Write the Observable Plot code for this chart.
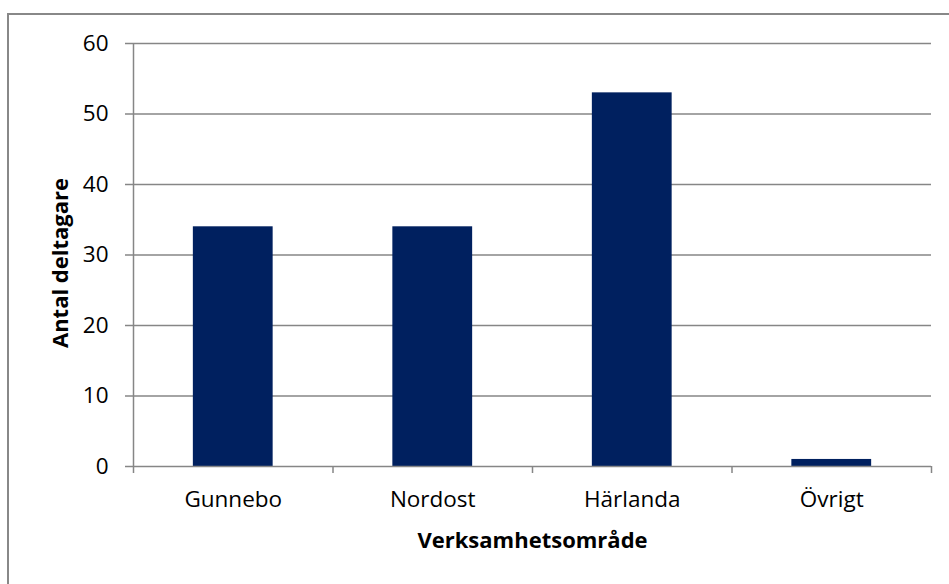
<!DOCTYPE html>
<html>
<head>
<meta charset="utf-8">
<script src="https://cdn.jsdelivr.net/npm/d3@7"></script>
<script src="https://cdn.jsdelivr.net/npm/@observablehq/plot@0.6"></script>
<style>
  html, body { margin: 0; padding: 0; background: #fff; }
  #wrap { position: relative; width: 949px; height: 584px; overflow: hidden; }
  #border { position: absolute; left: 7px; top: 13px; width: 960px; height: 600px; border: 2px solid #888; box-sizing: border-box; }
  #chart { position: absolute; left: 0; top: 0; }
</style>
</head>
<body>
<div id="wrap">
  <div id="border"></div>
  <div id="chart"></div>
</div>
<script>
const categories = ["Gunnebo", "Nordost", "Härlanda", "Övrigt"];
const values = [34, 34, 53, 1];
const yTicks = [0, 10, 20, 30, 40, 50, 60];
const yTitle = "Antal deltagare";
const xTitle = "Verksamhetsområde";

const data = categories.map((c, i) => ({category: c, index: i, value: values[i]}));
const boundaries = d3.range(categories.length + 1);
const centers = categories.map((c, i) => i + 0.5);

const font = "'Open Sans', sans-serif";
const grid = "#868686";

const chart = Plot.plot({
  width: 949,
  height: 584,
  marginLeft: 133,
  marginRight: 18,
  marginTop: 43,
  marginBottom: 118,
  style: {fontFamily: font, fontSize: "22px", color: "#000", background: "transparent", overflow: "visible"},
  x: {type: "linear", domain: [0, categories.length], axis: null},
  y: {domain: [0, 60], axis: null},
  marks: [
    Plot.gridY(yTicks.filter(d => d > 0), {stroke: grid, strokeOpacity: 1, strokeWidth: 1.5}),
    Plot.rectY(data, {x1: d => d.index + 0.3, x2: d => d.index + 0.7, y1: 0, y2: "value", fill: "#00205f"}),
    Plot.ruleY([0], {stroke: grid, strokeWidth: 1.5}),
    Plot.ruleX([0], {stroke: grid, strokeWidth: 1.5}),
    Plot.axisY({ticks: yTicks, tickSize: 8, tickPadding: 17, stroke: grid, strokeWidth: 1.5, fontSize: 22.5, label: null, color: "#000"}),
    Plot.axisX({ticks: boundaries, tickSize: 7, tickFormat: () => "", stroke: grid, strokeWidth: 1.5, label: null}),
    Plot.axisX({ticks: centers, tickSize: 0, tickPadding: 25, tickFormat: d => categories[Math.floor(d)], fontSize: 22.5, label: null}),
    Plot.text([xTitle], {frameAnchor: "bottom", dy: 81, text: d => d, fontSize: 22, fontWeight: "bold", fill: "#000"}),
    Plot.text([yTitle], {frameAnchor: "left", dx: -73, dy: 8, rotate: -90, textAnchor: "middle", text: d => d, fontSize: 22, fontWeight: "bold", fill: "#000"})
  ]
});
document.getElementById("chart").appendChild(chart);
</script>
</body>
</html>
